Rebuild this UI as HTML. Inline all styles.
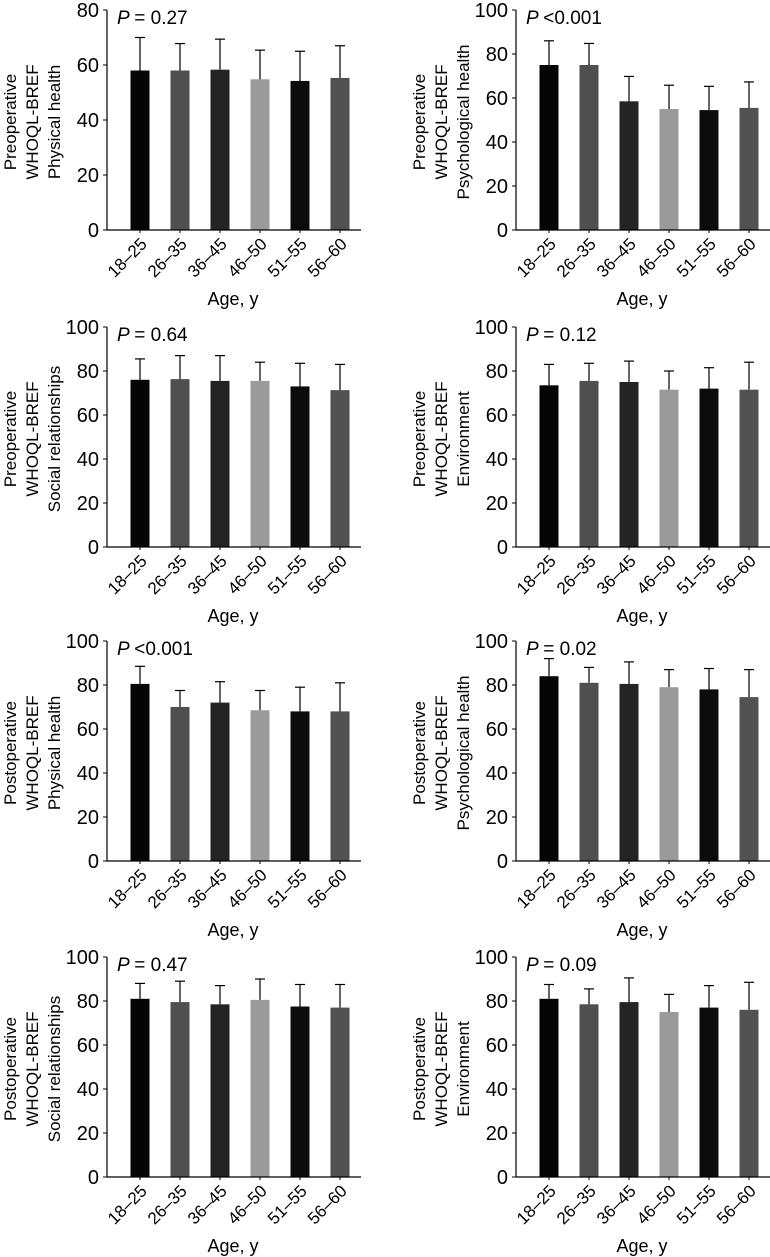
<!DOCTYPE html>
<html><head><meta charset="utf-8">
<style>
html,body{margin:0;padding:0;background:#fff;}
svg{display:block;font-family:"Liberation Sans Narrow","Liberation Sans",sans-serif;}
</style></head>
<body>
<svg id="fig" width="770" height="1257" viewBox="0 0 770 1257"></svg>
<script>
const categories = ["18–25","26–35","36–45","46–50","51–55","56–60"];
const titles = [
 ["Preoperative","WHOQL-BREF","Physical health"],
 ["Preoperative","WHOQL-BREF","Psychological health"],
 ["Preoperative","WHOQL-BREF","Social relationships"],
 ["Preoperative","WHOQL-BREF","Environment"],
 ["Postoperative","WHOQL-BREF","Physical health"],
 ["Postoperative","WHOQL-BREF","Psychological health"],
 ["Postoperative","WHOQL-BREF","Social relationships"],
 ["Postoperative","WHOQL-BREF","Environment"]
];
const pLabels = ["= 0.27","<0.001","= 0.64","= 0.12","<0.001","= 0.02","= 0.47","= 0.09"];
const yMaxes = [80,100,100,100,100,100,100,100];
const tickStep = 20;
const means1 = [58,58,58.3,54.8,54.2,55.3];
const tops1 = [70,67.8,69.4,65.4,65,67];
const means2 = [75,75,58.5,55,54.5,55.5];
const tops2 = [86,84.8,69.8,65.8,65.3,67.3];
const means3 = [76,76.3,75.5,75.5,73,71.3];
const tops3 = [85.5,87,87,84,83.5,83];
const means4 = [73.5,75.5,75,71.5,72,71.5];
const tops4 = [83,83.5,84.5,80,81.5,84];
const means5 = [80.5,70,72,68.5,68,68];
const tops5 = [88.5,77.5,81.5,77.5,79,81];
const means6 = [84,81,80.5,79,78,74.5];
const tops6 = [92,88,90.5,87,87.5,87];
const means7 = [81,79.5,78.5,80.5,77.5,77];
const tops7 = [88,89,87,90,87.5,87.5];
const means8 = [81,78.5,79.5,75,77,76];
const tops8 = [87.5,85.5,90.5,83,87,88.5];
const allMeans = [means1,means2,means3,means4,means5,means6,means7,means8];
const allTops = [tops1,tops2,tops3,tops4,tops5,tops6,tops7,tops8];

const colors = ["#050505","#4f4f4f","#242424","#9a9a9a","#0c0c0c","#525252"];
const NS = "http://www.w3.org/2000/svg";
const svg = document.getElementById("fig");
function mk(tag, attrs, parent){
  const e = document.createElementNS(NS, tag);
  for (const k in attrs) e.setAttribute(k, attrs[k]);
  parent.appendChild(e); return e;
}
const rowBottoms = [230,547,861,1177];
const plotH = 220;
for (let p=0;p<8;p++){
  const col = p%2, row = Math.floor(p/2);
  const ax = col===0 ? 107 : 516;
  const bottom = rowBottoms[row];
  const top = bottom - plotH;
  const xEnd = ax + 254;
  const ymax = yMaxes[p];
  const yS = v => bottom - v/ymax*plotH;
  const xC = i => ax + 33 + i*40;
  const g = mk("g", {}, svg);
  
  
  // bars
  allMeans[p].forEach((m,i)=>{
    const b = mk("rect",{x:xC(i)-9.5,y:yS(m),width:19,height:bottom-yS(m),fill:colors[i]},g);
    
    
    const t = allTops[p][i];
    const e1 = mk("line",{x1:xC(i),x2:xC(i),y1:yS(m),y2:yS(t),stroke:"#000","stroke-width":1.2},g);
    
    
    mk("line",{x1:xC(i)-5,x2:xC(i)+5,y1:yS(t),y2:yS(t),stroke:"#000","stroke-width":1.2},g);
    // x tick
    mk("line",{x1:xC(i),x2:xC(i),y1:bottom,y2:bottom+3,stroke:"#000","stroke-width":1},g);
    const tl = mk("text",{x:0,y:0,"font-size":17,"text-anchor":"end",transform:`translate(${xC(i)+8},${bottom+15}) rotate(-45)`},g);
    tl.textContent = categories[i];
    
    
  });
  // axes
  const ya = mk("line",{x1:ax,x2:ax,y1:top,y2:bottom,stroke:"#000","stroke-width":1.2},g);
  
  
  const xa = mk("line",{x1:ax,x2:xEnd,y1:bottom,y2:bottom,stroke:"#000","stroke-width":1.2},g);
  
  
  for (let v=0; v<=ymax; v+=tickStep){
    mk("line",{x1:ax-4,x2:ax,y1:yS(v),y2:yS(v),stroke:"#000","stroke-width":1},g);
    const yt = mk("text",{x:ax-8,y:yS(v)+7,"font-size":20,"text-anchor":"end"},g);
    yt.textContent = v;
    
    
  }
  // y title
  const cx = ax - 75, cy = top + 112;
  titles[p].forEach((ln,k)=>{
    const t = mk("text",{x:0,y:0,"font-size":17,"text-anchor":"middle",transform:`translate(${cx+(k-1)*22+6},${cy}) rotate(-90)`},g);
    t.textContent = ln;
    
    
  });
  // x title
  const xt = mk("text",{x:ax+126,y:bottom+75,"font-size":18,"text-anchor":"middle"},g);
  xt.textContent = "Age, y";
  
  
  // P label
  const pl = mk("text",{x:ax+10,y:top+14,"font-size":19},g);
  
  
  const ts1 = mk("tspan",{"font-style":"italic"},pl); ts1.textContent = "P ";
  const ts2 = mk("tspan",{},pl); ts2.textContent = pLabels[p];
}
</script>
</body></html>
